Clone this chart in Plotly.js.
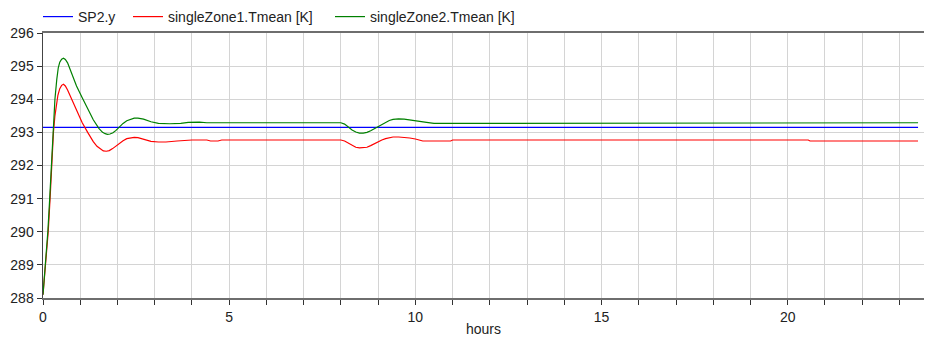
<!DOCTYPE html>
<html>
<head>
<meta charset="utf-8">
<script src="https://cdn.plot.ly/plotly-3.0.1.min.js"></script>
<style>html,body{margin:0;padding:0;background:#fff;}#chart{width:925px;height:340px;}</style>
</head>
<body>
<div id="chart"></div>
<script>
// Set point SP2.y [K]
const spTime = [0, 23.5];
const spValue = [293.15, 293.15];

// singleZone1.Tmean [K]
const zone1Time = [0, 0.07, 0.14, 0.19, 0.23, 0.28, 0.32, 0.36, 0.4, 0.45, 0.5, 0.55, 0.6, 0.66, 0.75, 0.9, 1.05, 1.2, 1.35, 1.45, 1.55, 1.62, 1.7, 1.78, 1.87, 1.95, 2.05, 2.15, 2.25, 2.35, 2.45, 2.55, 2.7, 2.9, 3.1, 3.3, 3.6, 4.0, 4.4, 4.5, 4.7, 4.8, 5.0, 8.0, 8.1, 8.2, 8.3, 8.4, 8.5, 8.6, 8.7, 8.8, 8.9, 9.0, 9.1, 9.2, 9.3, 9.4, 9.55, 9.7, 9.85, 10.0, 10.2, 10.5, 10.95, 11.0, 20.55, 20.6, 23.5];
const zone1Value = [288.1, 289, 290, 291, 292, 293, 293.5, 293.85, 294.12, 294.32, 294.42, 294.45, 294.4, 294.28, 294.05, 293.65, 293.3, 293.0, 292.72, 292.58, 292.48, 292.44, 292.43, 292.45, 292.51, 292.58, 292.67, 292.75, 292.81, 292.84, 292.85, 292.84, 292.8, 292.73, 292.71, 292.71, 292.74, 292.77, 292.77, 292.74, 292.74, 292.77, 292.77, 292.77, 292.74, 292.68, 292.6, 292.55, 292.53, 292.53, 292.55, 292.6, 292.66, 292.72, 292.77, 292.81, 292.84, 292.86, 292.86, 292.85, 292.83, 292.8, 292.74, 292.74, 292.74, 292.77, 292.77, 292.74, 292.74];

// singleZone2.Tmean [K]
const zone2Time = [0, 0.07, 0.13, 0.18, 0.22, 0.27, 0.32, 0.37, 0.41, 0.45, 0.5, 0.55, 0.6, 0.66, 0.75, 0.9, 1.05, 1.2, 1.35, 1.5, 1.6, 1.67, 1.73, 1.8, 1.88, 1.96, 2.05, 2.15, 2.25, 2.35, 2.45, 2.55, 2.7, 2.9, 3.1, 3.4, 3.7, 3.9, 4.2, 4.4, 8.0, 8.1, 8.2, 8.3, 8.4, 8.5, 8.6, 8.7, 8.8, 8.9, 9.0, 9.1, 9.2, 9.3, 9.4, 9.55, 9.7, 9.85, 10.0, 10.3, 10.5, 11.2, 11.3, 23.5];
const zone2Value = [288.1, 289, 290, 291, 292, 293, 294, 294.6, 294.95, 295.12, 295.21, 295.24, 295.2, 295.1, 294.85, 294.4, 294.05, 293.7, 293.38, 293.12, 293.0, 292.96, 292.94, 292.95, 292.99, 293.06, 293.16, 293.27, 293.35, 293.4, 293.43, 293.43, 293.4, 293.32, 293.27, 293.26, 293.27, 293.3, 293.31, 293.29, 293.29, 293.25, 293.16, 293.07, 293.01, 292.98, 292.98, 293.0, 293.05, 293.11, 293.18, 293.25, 293.31, 293.36, 293.39, 293.41, 293.4, 293.38, 293.36, 293.3, 293.27, 293.27, 293.29, 293.29];

const seriesNames = ["SP2.y", "singleZone1.Tmean [K]", "singleZone2.Tmean [K]"];
const xTitle = "hours";

const font = {family: "Liberation Sans, Arial, sans-serif", size: 14, color: "#222"};

const traces = [
  {x: spTime, y: spValue, name: seriesNames[0], mode: "lines", line: {color: "#0000ff", width: 1.2}, legend: "legend"},
  {x: zone1Time, y: zone1Value, name: seriesNames[1], mode: "lines", line: {color: "#ff0000", width: 1.2}, legend: "legend2"},
  {x: zone2Time, y: zone2Value, name: seriesNames[2], mode: "lines", line: {color: "#008000", width: 1.2}, legend: "legend3"}
];

function leg(px) {
  return {xref: "container", yref: "container", x: px / 925, y: 1 - 1 / 340, xanchor: "left", yanchor: "top",
          orientation: "h", bgcolor: "rgba(0,0,0,0)", font: font, itemwidth: 30, tracegroupgap: 0};
}

const layout = {
  width: 925, height: 340,
  margin: {l: 43, r: 1, t: 33, b: 42, pad: 0},
  paper_bgcolor: "#fff", plot_bgcolor: "#fff",
  font: font,
  showlegend: true,
  legend: leg(38),
  legend2: leg(128),
  legend3: leg(330),
  xaxis: {
    range: [0, 23.66], dtick: 5, tick0: 0,
    showline: true, linecolor: "#6e6e6e", linewidth: 2, mirror: true,
    ticks: "outside", ticklen: 5, tickcolor: "#333", tickwidth: 1,
    showgrid: true, gridcolor: "#d4d4d4", gridwidth: 1,
    minor: {dtick: 1, tick0: 0, ticks: "outside", ticklen: 5, tickcolor: "#333", showgrid: true, gridcolor: "#d4d4d4", gridwidth: 1},
    zeroline: false,
    tickfont: font,
    title: {text: xTitle, font: font, standoff: 0}
  },
  yaxis: {
    range: [288, 296], dtick: 1, tick0: 288,
    showline: true, linecolor: "#444", linewidth: 1.5,
    ticks: "outside", ticklen: 5, tickcolor: "#333",
    showgrid: true, gridcolor: "#d4d4d4", gridwidth: 1,
    zeroline: false,
    tickfont: font
  }
};

Plotly.newPlot("chart", traces, layout, {displayModeBar: false, staticPlot: true});
</script>
</body>
</html>
